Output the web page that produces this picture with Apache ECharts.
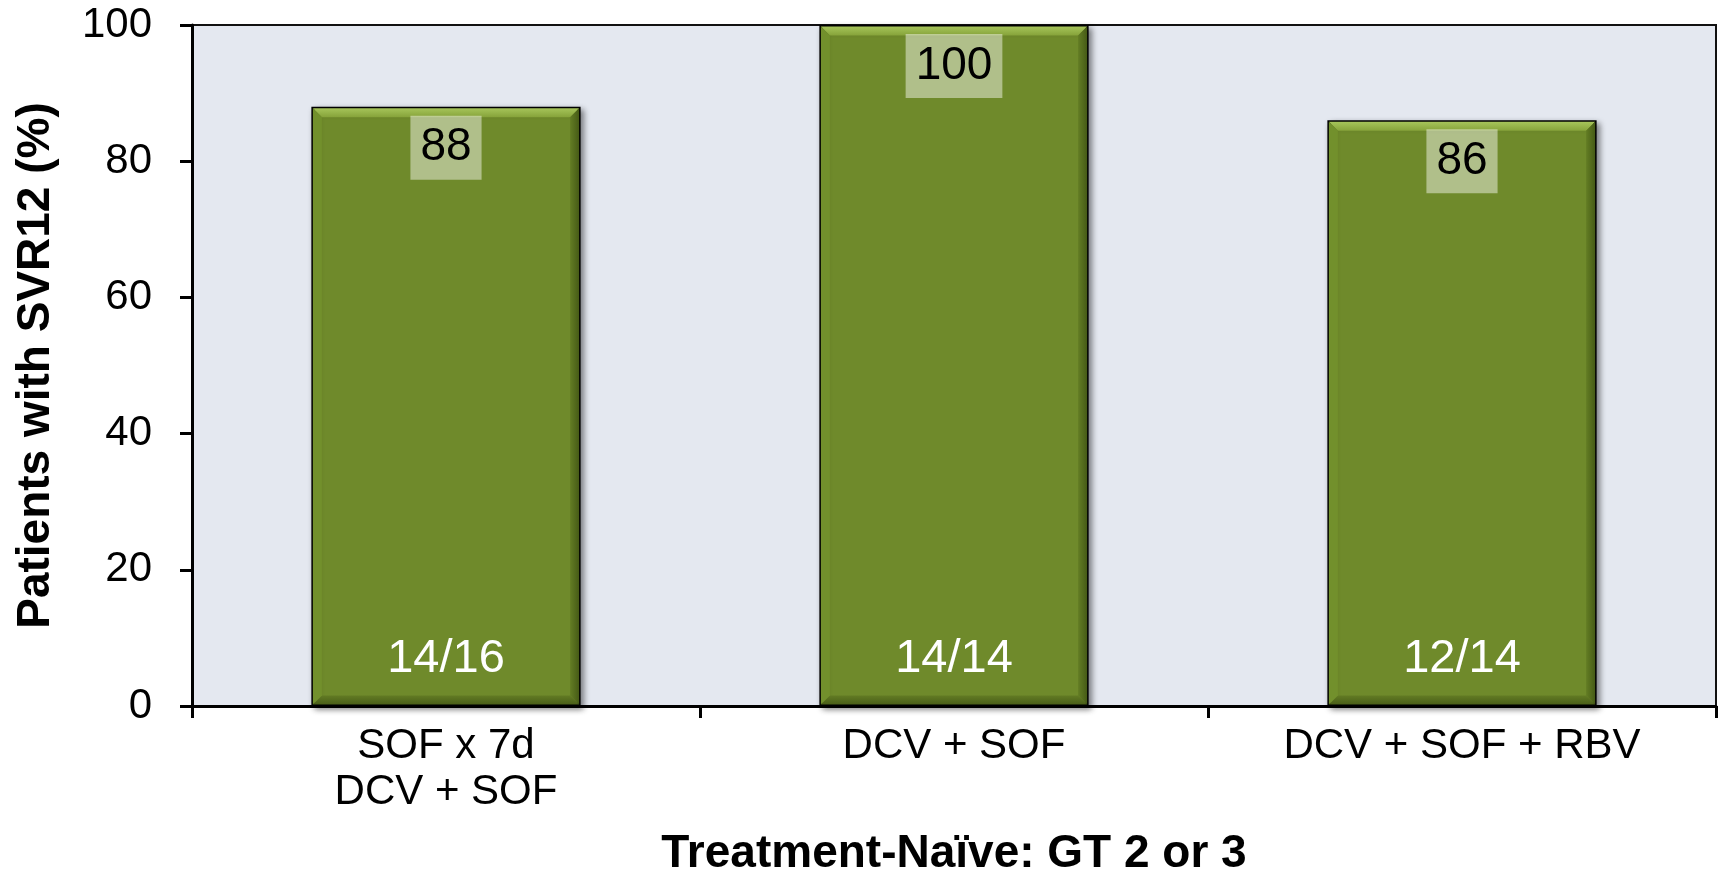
<!DOCTYPE html>
<html>
<head>
<meta charset="utf-8">
<script src="https://cdn.jsdelivr.net/npm/echarts@6/dist/echarts.min.js"></script>
<style>html,body{margin:0;padding:0;background:#fff;}#chart{width:1721px;height:874px;}</style>
</head>
<body>
<div id="chart"></div>
<script>
var categories = ['SOF x 7d\nDCV + SOF', 'DCV + SOF', 'DCV + SOF + RBV'];
var svrValues = [88, 100, 86];
var patientCounts = ['14/16', '14/14', '12/14'];
var yTicks = [0, 20, 40, 60, 80, 100];

var BAR_W = 0.53;
var chart = echarts.init(document.getElementById('chart'));
var font = '"Liberation Sans", Arial, sans-serif';

function bevel(params, api) {
  var idx = api.value(0), v = api.value(1);
  var top = api.coord([idx, v]);
  var base = api.coord([idx, 0]);
  var bw = api.size([1, 0])[0] * BAR_W;
  var i = 1.5;
  var x0 = top[0] - bw / 2 + i, x1 = top[0] + bw / 2 - i, y0 = top[1] + i, y1 = base[1] - i;
  var b = 9;
  return {
    type: 'group',
    children: [
      {type: 'polygon', shape: {points: [[x0, y0], [x1, y0], [x1 - b, y0 + b], [x0 + b, y0 + b]]},
        style: {fill: new echarts.graphic.LinearGradient(0, 0, 0, 1, [{offset: 0, color: '#a6c45a'}, {offset: 1, color: '#86a33a'}])}},
      {type: 'polygon', shape: {points: [[x1, y0], [x1, y1], [x1 - b, y1 - b], [x1 - b, y0 + b]]},
        style: {fill: new echarts.graphic.LinearGradient(0, 0, 1, 0, [{offset: 0, color: '#637d24'}, {offset: 1, color: '#465b16'}])}},
      {type: 'polygon', shape: {points: [[x0, y1], [x1, y1], [x1 - b, y1 - b], [x0 + b, y1 - b]]},
        style: {fill: new echarts.graphic.LinearGradient(0, 0, 0, 1, [{offset: 0, color: '#627b24'}, {offset: 1, color: '#4a5f18'}])}},
      {type: 'polygon', shape: {points: [[x0, y0], [x0 + b, y0 + b], [x0 + b, y1 - b], [x0, y1]]},
        style: {fill: '#72902c'}}
    ]
  };
}

var option = {
  animation: false,
  backgroundColor: '#ffffff',
  grid: {left: 192, right: 5, top: 25, bottom: 168, outerBoundsMode: 'none', containLabel: false,
    show: true, backgroundColor: '#e4e8f0', borderColor: '#111', borderWidth: 2},
  xAxis: {
    type: 'category',
    data: categories,
    axisLine: {lineStyle: {color: '#000', width: 3}},
    axisTick: {show: true, length: 12, lineStyle: {color: '#000', width: 3}},
    axisLabel: {color: '#000', fontFamily: font, fontSize: 42, lineHeight: 46, margin: 17},
    name: 'Treatment-Naïve: GT 2 or 3',
    nameLocation: 'middle',
    nameGap: 125,
    nameTextStyle: {color: '#000', fontFamily: font, fontWeight: 'bold', fontSize: 46, lineHeight: 46}
  },
  yAxis: {
    type: 'value',
    min: 0, max: 100, interval: 20,
    splitLine: {show: false},
    axisLine: {show: true, lineStyle: {color: '#000', width: 3}},
    axisTick: {show: true, length: 12, lineStyle: {color: '#000', width: 3}},
    axisLabel: {color: '#000', fontFamily: font, fontSize: 42, margin: 40,
      formatter: function (v) { return yTicks.indexOf(v) >= 0 ? String(v) : ''; }},
    name: 'Patients with SVR12 (%)',
    nameLocation: 'middle',
    nameGap: 133,
    nameTextStyle: {color: '#000', fontFamily: font, fontWeight: 'bold', fontSize: 46}
  },
  series: [
    {
      type: 'bar', data: svrValues, barWidth: (BAR_W * 100) + '%', barGap: '-100%', z: 2,
      itemStyle: {color: '#6f8a2b', borderColor: '#000', borderWidth: 3,
        shadowColor: 'rgba(0,0,0,0.45)', shadowBlur: 6, shadowOffsetX: 3, shadowOffsetY: 3}
    },
    {
      type: 'custom', z: 3, silent: true,
      data: svrValues.map(function (v, i) { return [i, v]; }),
      encode: {x: 0, y: 1},
      renderItem: bevel
    },
    {
      type: 'bar', data: svrValues, barWidth: (BAR_W * 100) + '%', barGap: '-100%', z: 4, silent: true,
      itemStyle: {color: 'transparent'},
      label: {show: true, position: 'insideTop', distance: 9, color: '#000', fontFamily: font, fontSize: 46,
        backgroundColor: 'rgba(255,255,255,0.45)', padding: [6, 10, 6, 10], lineHeight: 52}
    },
    {
      type: 'bar', data: svrValues, barWidth: (BAR_W * 100) + '%', barGap: '-100%', z: 4, silent: true,
      itemStyle: {color: 'transparent'},
      label: {show: true, position: 'insideBottom', distance: 23, color: '#fff', fontFamily: font, fontSize: 47,
        formatter: function (p) { return patientCounts[p.dataIndex]; }}
    }
  ]
};
chart.setOption(option);
</script>
</body>
</html>
